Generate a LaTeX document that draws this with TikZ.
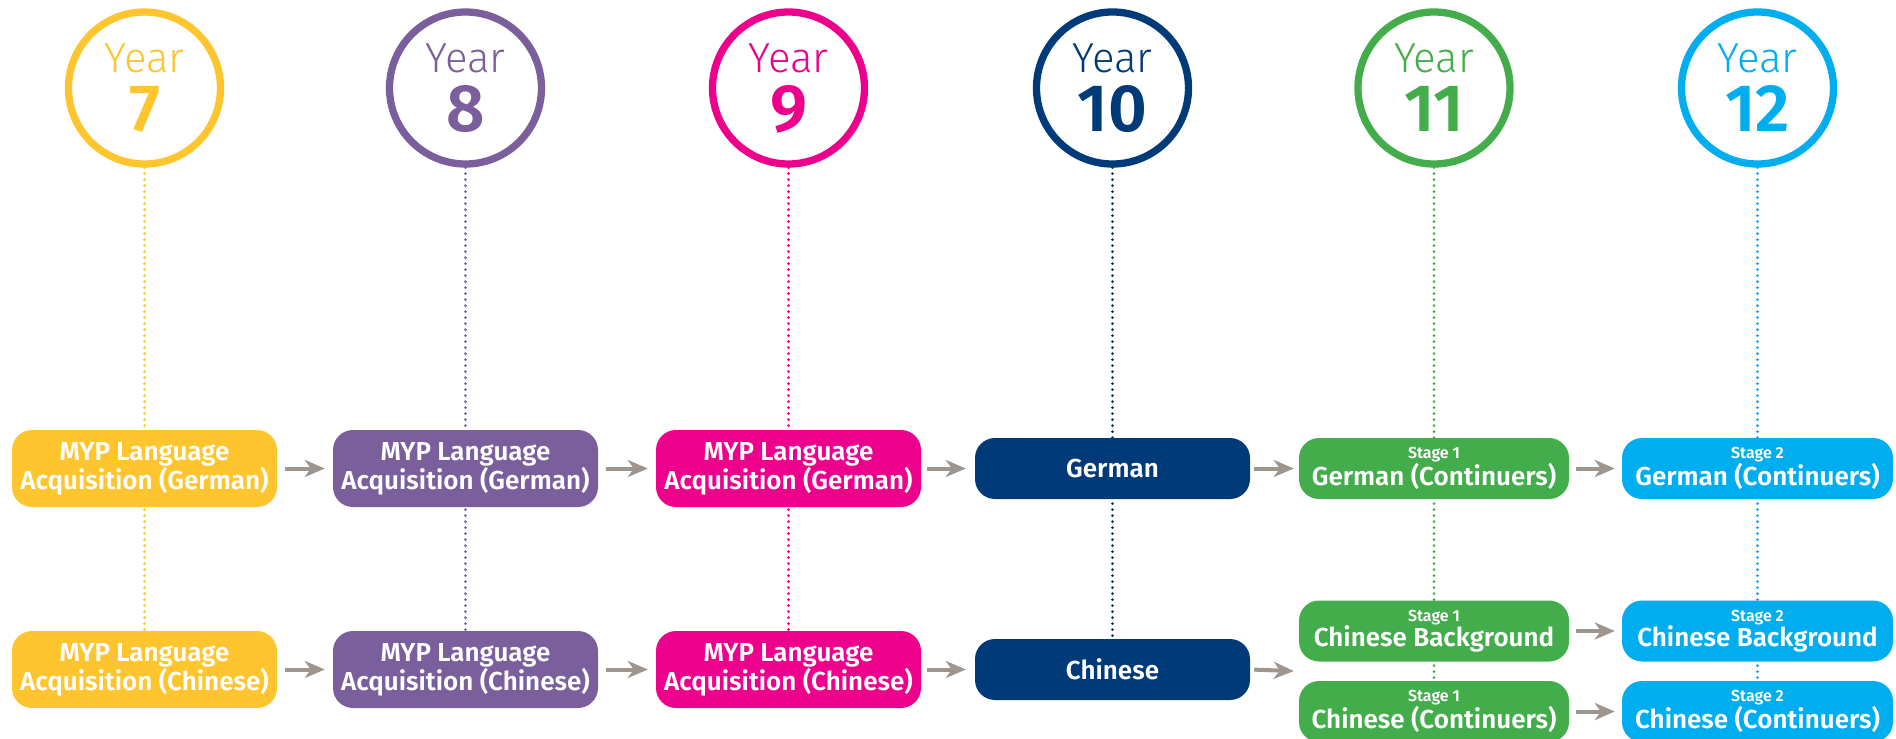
\documentclass[tikz,border=0pt]{standalone}
\usepackage{fontspec}
\newfontfamily\boxfont{Fira Sans SemiBold}
\newfontfamily\yrlight{Fira Sans Light}
\newfontfamily\yrbold{Fira Sans SemiBold}
\usetikzlibrary{arrows.meta,backgrounds,calc}
\definecolor{cyel}{HTML}{FFC52F}
\definecolor{cpur}{HTML}{7B5F9C}
\definecolor{cmag}{HTML}{EC008C}
\definecolor{cnav}{HTML}{003A78}
\definecolor{cgrn}{HTML}{43AD4B}
\definecolor{ccya}{HTML}{00AEEF}
\definecolor{cgry}{HTML}{9D958E}
\newcommand\stagelabel[1]{{\fontsize{16}{25}\selectfont #1}}
\begin{document}
\begin{tikzpicture}[x=1pt,y=-1pt,
  yearring/.style={circle, draw=#1, line width=7.3pt, minimum size=152pt, inner sep=0pt},
  yearword/.style={anchor=base, inner sep=0pt, text=#1, font=\yrlight\fontsize{42}{42}\selectfont},
  yearnum/.style={anchor=base, inner sep=0pt, text=#1, font=\yrbold\fontsize{67}{67}\selectfont},
  tallbox/.style={fill=#1, rounded corners=20pt, minimum width=265pt, minimum height=77pt,
    text=white, align=center, inner sep=0pt, font=\boxfont\fontsize{26}{26}\selectfont},
  flatbox/.style={fill=#1, rounded corners=20pt, minimum height=61pt,
    text=white, align=center, inner sep=0pt, font=\boxfont\fontsize{26}{25}\selectfont},
  guide/.style={draw=#1, line width=3pt, line cap=round, dash pattern=on 0pt off 6pt},
  flow/.style={draw=cgry, line width=4pt, -{Stealth[length=20pt,width=17pt,inset=6pt]},
    shorten <=8pt, shorten >=8pt}]
\useasboundingbox (0,0) rectangle (1896,739);

% year circles
\node[yearring=cyel] (y7) at (144.5,88) {};
\node[yearring=cpur] (y8) at (465.5,88) {};
\node[yearring=cmag] (y9) at (788.5,88) {};
\node[yearring=cnav] (y10) at (1112.5,88) {};
\node[yearring=cgrn] (y11) at (1434,88) {};
\node[yearring=ccya] (y12) at (1757.5,88) {};

\node[yearword=cyel] (w7) at (144.5,72) {Year};
\node[yearword=cpur] (w8) at (465.5,72) {Year};
\node[yearword=cmag] (w9) at (788.5,72) {Year};
\node[yearword=cnav] (w10) at (1112.5,72) {Year};
\node[yearword=cgrn] (w11) at (1434,72) {Year};
\node[yearword=ccya] (w12) at (1757.5,72) {Year};

\node[yearnum=cyel] (n7) at (144.5,131) {7};
\node[yearnum=cpur] (n8) at (465.5,131) {8};
\node[yearnum=cmag] (n9) at (788.5,131) {9};
\node[yearnum=cnav] (n10) at (1112.5,131) {10};
\node[yearnum=cgrn] (n11) at (1434,131) {11};
\node[yearnum=ccya] (n12) at (1757.5,131) {12};

% German row
\node[tallbox=cyel] (g7) at (144.5,468.5) {MYP Language\\Acquisition (German)};
\node[tallbox=cpur] (g8) at (465.5,468.5) {MYP Language\\Acquisition (German)};
\node[tallbox=cmag] (g9) at (788.5,468.5) {MYP Language\\Acquisition (German)};
\node[flatbox=cnav, minimum width=275pt] (g10) at (1112.5,468.5) {German};
\node[flatbox=cgrn, minimum width=270pt] (g11) at (1434,468.5) {\stagelabel{Stage 1}\\German (Continuers)};
\node[flatbox=ccya, minimum width=271pt] (g12) at (1757.5,468.5) {\stagelabel{Stage 2}\\German (Continuers)};

% Chinese row
\node[tallbox=cyel] (c7) at (144.5,669.5) {MYP Language\\Acquisition (Chinese)};
\node[tallbox=cpur] (c8) at (465.5,669.5) {MYP Language\\Acquisition (Chinese)};
\node[tallbox=cmag] (c9) at (788.5,669.5) {MYP Language\\Acquisition (Chinese)};
\node[flatbox=cnav, minimum width=275pt] (c10) at (1112.5,669.5) {Chinese};
\node[flatbox=cgrn, minimum width=270pt] (b11) at (1434,631) {\stagelabel{Stage 1}\\Chinese Background};
\node[flatbox=ccya, minimum width=271pt] (b12) at (1757.5,631) {\stagelabel{Stage 2}\\Chinese Background};
\node[flatbox=cgrn, minimum width=270pt] (k11) at (1434,711.5) {\stagelabel{Stage 1}\\Chinese (Continuers)};
\node[flatbox=ccya, minimum width=271pt] (k12) at (1757.5,711.5) {\stagelabel{Stage 2}\\Chinese (Continuers)};

\coordinate (split11) at ($(b11.south west)!0.5!(k11.north west)$);

% dotted guides
\begin{scope}[on background layer]
  \draw[guide=cyel] (y7.south) -- (c7.north);
  \draw[guide=cpur] (y8.south) -- (c8.north);
  \draw[guide=cmag] (y9.south) -- (c9.north);
  \draw[guide=cnav] (y10.south) -- (c10.north);
  \draw[guide=cgrn] (y11.south) -- (k11.north);
  \draw[guide=ccya] (y12.south) -- (k12.north);
\end{scope}

% arrows
\draw[flow] (g7) -- (g8);
\draw[flow] (g8) -- (g9);
\draw[flow, shorten <=6pt, shorten >=9pt] (g9) -- (g10);
\draw[flow, shorten <=4pt, shorten >=5pt] (g10) -- (g11);
\draw[flow, shorten <=7pt, shorten >=7pt] (g11) -- (g12);
\draw[flow] (c7) -- (c8);
\draw[flow] (c8) -- (c9);
\draw[flow, shorten <=6pt, shorten >=9pt] (c9) -- (c10);
\draw[flow, shorten <=4pt, shorten >=5pt] (c10.east) -- (split11);
\draw[flow, shorten <=7pt, shorten >=7pt] (b11) -- (b12);
\draw[flow, shorten <=7pt, shorten >=7pt] (k11) -- (k12);
\end{tikzpicture}
\end{document}
